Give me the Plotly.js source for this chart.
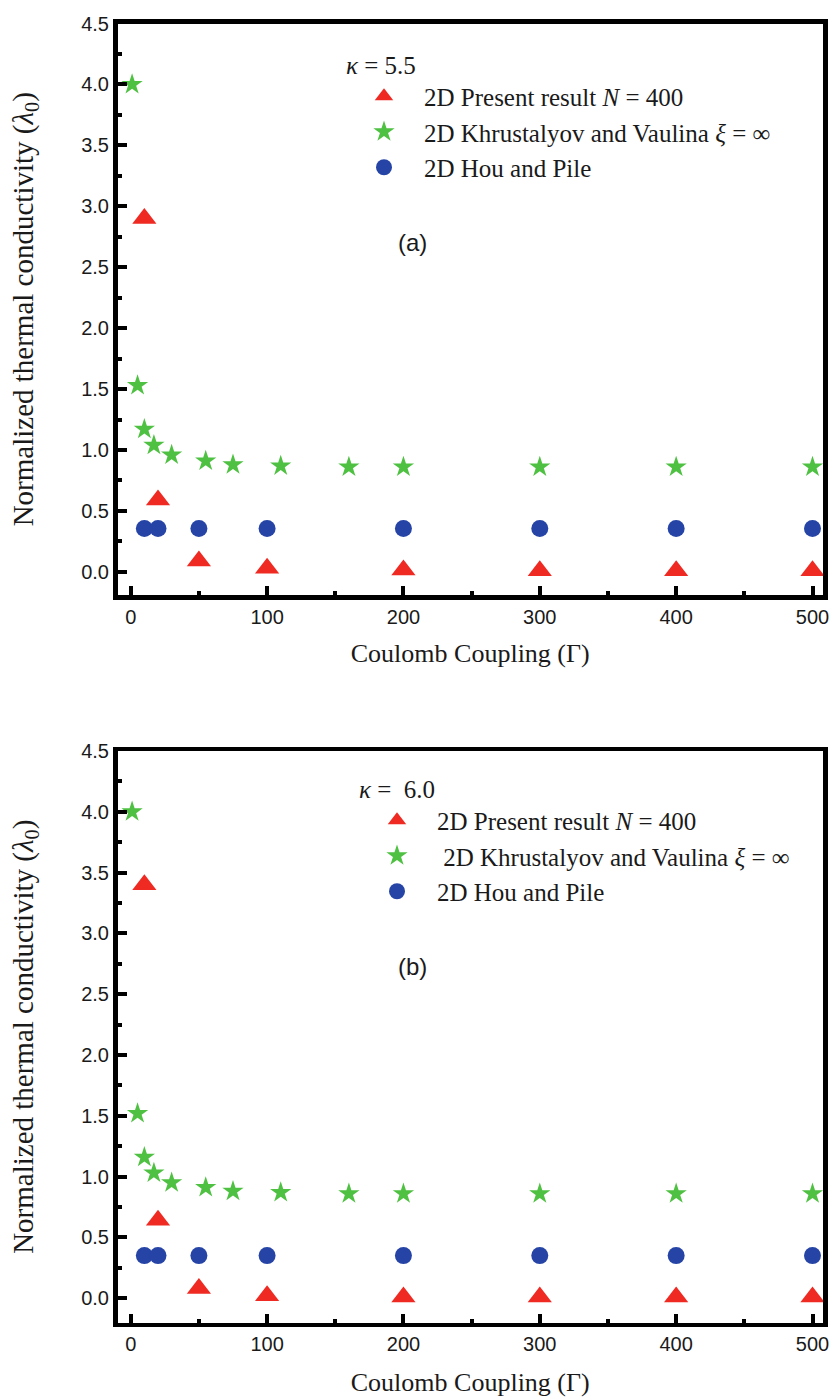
<!DOCTYPE html>
<html>
<head>
<meta charset="utf-8">
<script src="https://cdn.plot.ly/plotly-3.0.1.min.js"></script>
<style>html,body{margin:0;padding:0;background:#fff;}</style>
</head>
<body>
<div id="chart" style="width:833px;height:1397px;"></div>
<script>
// ---- Data ----
// Panel (a): kappa = 5.5
const gammaPresent = [10, 20, 50, 100, 200, 300, 400, 500];
const presentA = [2.9, 0.59, 0.09, 0.03, 0.015, 0.01, 0.01, 0.01];
const gammaKV = [1, 5, 10, 17, 30, 55, 75, 110, 160, 200, 300, 400, 500];
const kvA = [4.0, 1.53, 1.17, 1.04, 0.96, 0.91, 0.88, 0.87, 0.86, 0.86, 0.86, 0.86, 0.86];
const gammaHP = [10, 20, 50, 100, 200, 300, 400, 500];
const hpA = [0.355, 0.355, 0.355, 0.355, 0.355, 0.355, 0.355, 0.355];
// Panel (b): kappa = 6.0
const presentB = [3.4, 0.64, 0.08, 0.02, 0.01, 0.01, 0.01, 0.01];
const kvB = [4.0, 1.52, 1.16, 1.03, 0.95, 0.91, 0.88, 0.87, 0.86, 0.86, 0.86, 0.86, 0.86];
const hpB = [0.35, 0.35, 0.35, 0.35, 0.35, 0.35, 0.35, 0.35];

const xTickVals = [0, 100, 200, 300, 400, 500];
const yTickVals = [0.0, 0.5, 1.0, 1.5, 2.0, 2.5, 3.0, 3.5, 4.0, 4.5];
const namePresent = '2D Present result <i>N</i> = 400';
const nameKV = '2D Khrustalyov and Vaulina <i>ξ</i> = ∞';
const nameKVb = '\u00a02D Khrustalyov and Vaulina <i>ξ</i> = ∞';
const nameHP = '2D Hou and Pile';
const titleA = '<i>κ</i> = 5.5';
const titleB = '<i>κ</i> =\u00a0\u00a06.0';

// ---- Styles ----
const RED = '#ee2a22', GREEN = '#4fc142', BLUE = '#2544a6';
const SERIF = 'Liberation Serif, Times New Roman, serif';
const SANS = 'Liberation Sans, Arial, sans-serif';
const H = 1397, W = 833;

function tri(x, y, xa, ya, lg, name) {
  return {x: x, y: y, xaxis: xa, yaxis: ya, legend: lg, name: name, type: 'scatter', mode: 'markers',
    cliponaxis: false, marker: {symbol: 'triangle-up', size: 21, color: RED, line: {width: 0}}};
}
function star(x, y, xa, ya, lg, name) {
  return {x: x, y: y, xaxis: xa, yaxis: ya, legend: lg, name: name, type: 'scatter', mode: 'markers',
    cliponaxis: false, marker: {symbol: 'star', size: 16, color: GREEN, line: {width: 0}}};
}
function circ(x, y, xa, ya, lg, name) {
  return {x: x, y: y, xaxis: xa, yaxis: ya, legend: lg, name: name, type: 'scatter', mode: 'markers',
    cliponaxis: false, marker: {symbol: 'circle', size: 17, color: BLUE, line: {width: 0}}};
}

const traces = [
  tri(gammaPresent, presentA, 'x', 'y', 'legend', namePresent),
  star(gammaKV, kvA, 'x', 'y', 'legend', nameKV),
  circ(gammaHP, hpA, 'x', 'y', 'legend', nameHP),
  tri(gammaPresent, presentB, 'x2', 'y2', 'legend2', namePresent),
  star(gammaKV, kvB, 'x2', 'y2', 'legend2', nameKVb),
  circ(gammaHP, hpB, 'x2', 'y2', 'legend2', nameHP)
];

const common = {
  showline: true, linewidth: 4.5, linecolor: 'black', mirror: true,
  ticks: 'inside', ticklen: 9, tickwidth: 4, tickcolor: 'black',
  showgrid: false, zeroline: false,
  tickfont: {family: SANS, size: 20, color: '#1a1a1a'}
};
function xax(anchor, standoff) {
  return Object.assign({}, common, {
    anchor: anchor, domain: [117.5 / W, 823 / W], range: [-9.7, 507.7],
    tickmode: 'array', tickvals: xTickVals,
    minor: {ticks: 'inside', ticklen: 4, tickwidth: 4, tickcolor: 'black', dtick: 50, tick0: 0, showgrid: false},
    title: {text: 'Coulomb Coupling (Γ)', font: {family: SERIF, size: 26, color: '#1a1a1a'}, standoff: standoff}
  });
}
function yax(anchor, domain, range) {
  return Object.assign({}, common, {
    anchor: anchor, domain: domain, range: range,
    tickmode: 'array', tickvals: yTickVals, ticktext: yTickVals.map(v => v.toFixed(1)),
    minor: {ticks: 'inside', ticklen: 4, tickwidth: 4, tickcolor: 'black', dtick: 0.25, tick0: 0, showgrid: false},
    title: {text: 'Normalized thermal conductivity (<i>λ</i><sub>0</sub>)', font: {family: SERIF, size: 29, color: '#1a1a1a'}, standoff: 40}
  });
}
function leg(xpx, ypx, title) {
  return {
    x: xpx / W, xanchor: 'left', y: 1 - ypx / H, yanchor: 'top',
    bgcolor: 'rgba(0,0,0,0)', borderwidth: 0, itemwidth: 70,
    font: {family: SERIF, size: 25, color: '#1a1a1a'},
    title: {text: title, font: {family: SERIF, size: 25, color: '#1a1a1a'}},
    tracegroupgap: 0
  };
}

const layout = {
  width: W, height: H,
  margin: {l: 0, r: 0, t: 0, b: 0},
  paper_bgcolor: 'white', plot_bgcolor: 'white',
  showlegend: true,
  xaxis: xax('y', 19),
  yaxis: yax('x', [1 - 595 / H, 1 - 23.5 / H], [-0.19, 4.5001]),
  xaxis2: xax('y2', 25),
  yaxis2: yax('x2', [1 - 1322.5 / H, 1 - 751 / H], [-0.2, 4.5001]),
  legend: leg(344, 41, titleA),
  legend2: leg(357, 765, titleB),
  annotations: [
    {text: '(a)', xref: 'paper', yref: 'paper', x: 412 / W, y: 1 - 243 / H, xanchor: 'center', yanchor: 'middle', showarrow: false,
     font: {family: SANS, size: 24, color: '#1a1a1a'}},
    {text: '(b)', xref: 'paper', yref: 'paper', x: 412 / W, y: 1 - 966 / H, xanchor: 'center', yanchor: 'middle', showarrow: false,
     font: {family: SANS, size: 24, color: '#1a1a1a'}}
  ]
};

Plotly.newPlot('chart', traces, layout, {displayModeBar: false, staticPlot: true});
</script>
</body>
</html>
